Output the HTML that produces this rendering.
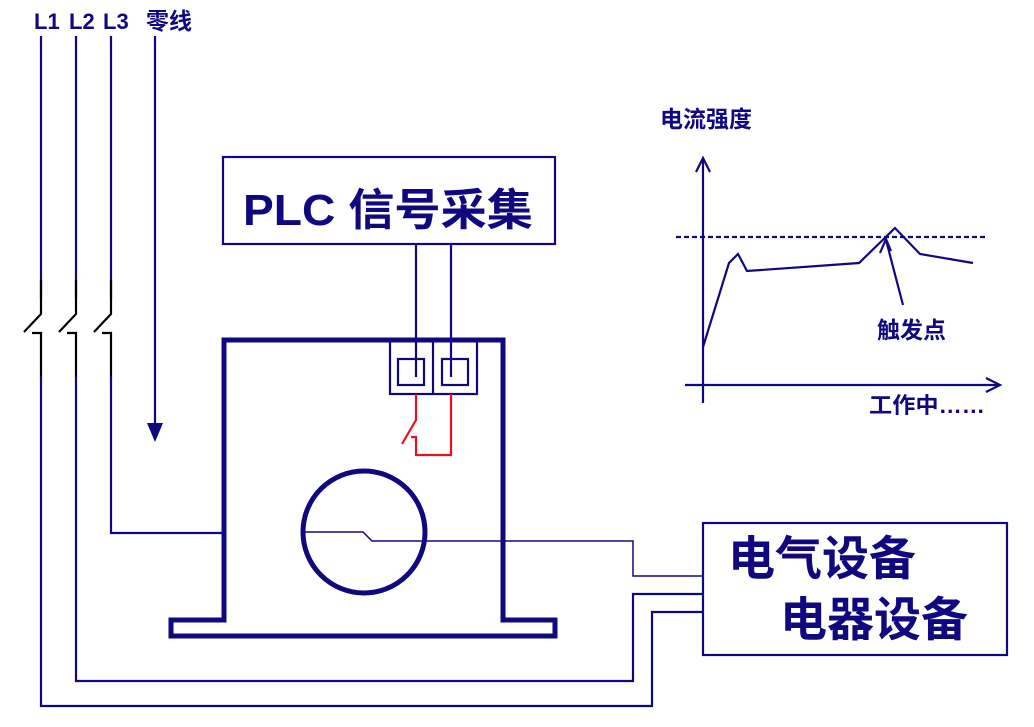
<!DOCTYPE html>
<html><head><meta charset="utf-8"><style>
html,body{margin:0;padding:0;background:#fff;}
svg{display:block;}
text{font-family:"Liberation Sans","Noto Sans CJK SC",sans-serif;font-weight:bold;fill:#10087f;}
</style></head><body>
<svg width="1034" height="727" viewBox="0 0 1034 727" xmlns="http://www.w3.org/2000/svg">
<text x="34" y="29" font-size="22">L1</text>
<text x="69" y="29" font-size="22">L2</text>
<text x="103" y="29" font-size="22">L3</text>
<text x="146" y="29" font-size="23">零线</text>
<g fill="none" stroke-width="2.2">
<path d="M41 36V298M76 36V298M111 36V298" stroke="#10087f"/>
<path d="M41 280V314L24 332M76 280V314L59 332M111 280V314L94 332" stroke="#000"/>
<path d="M32 333H41V377M67 333H76V377M102 333H111V377" stroke="#000"/>
<path d="M41 376V706H652V612H703M76 376V681H633V594H703M111 376V533H224" stroke="#10087f"/>
<path d="M155 36V425" stroke="#10087f"/>
<rect x="223" y="157" width="332" height="87" stroke="#10087f"/>
<path d="M416 244V377M451 244V377" stroke="#10087f"/>
<rect x="390" y="340" width="87" height="54" stroke="#10087f"/>
<path d="M433 340V394" stroke="#10087f"/>
<rect x="398" y="359" width="26" height="26" stroke="#10087f"/>
<rect x="442" y="359" width="26" height="26" stroke="#10087f"/>
<path d="M416 394V420L402 444M411 437H416V455H451V394" stroke="#e8101c"/>
<path d="M302 532H363L372 541H633V576H703" stroke="#10087f" stroke-width="1.5"/>
<rect x="703" y="523" width="304" height="132" stroke="#10087f"/>
<path d="M703 160V403M685 385H998" stroke="#10087f"/>
<path d="M696 172L703 158L710 172M986 378L1000 385L986 392" stroke="#10087f"/>
<path d="M676 237H988" stroke="#10087f" stroke-dasharray="5,3"/>
<path d="M703 347L729 263L738 254L747 271L859 263L895 228L920 254L973 263" stroke="#10087f"/>
<path d="M903 305L886 240M880 253L886 239L891 251" stroke="#10087f"/>
</g>
<polygon points="147,423 163,423 155,442" fill="#10087f"/>
<g fill="none" stroke="#10087f" stroke-width="5">
<path d="M224 340H503V620H555V636H171V620H224Z"/>
<circle cx="364" cy="532" r="61"/>
</g>
<text x="243" y="225" font-size="44" textLength="290" lengthAdjust="spacingAndGlyphs">PLC 信号采集</text>
<text x="728" y="575" font-size="47">电气设备</text>
<text x="780" y="636" font-size="47">电器设备</text>
<text x="660" y="127" font-size="23">电流强度</text>
<text x="877" y="338" font-size="23">触发点</text>
<text x="869" y="413" font-size="22" textLength="116" lengthAdjust="spacingAndGlyphs">工作中……</text>
</svg>
</body></html>
